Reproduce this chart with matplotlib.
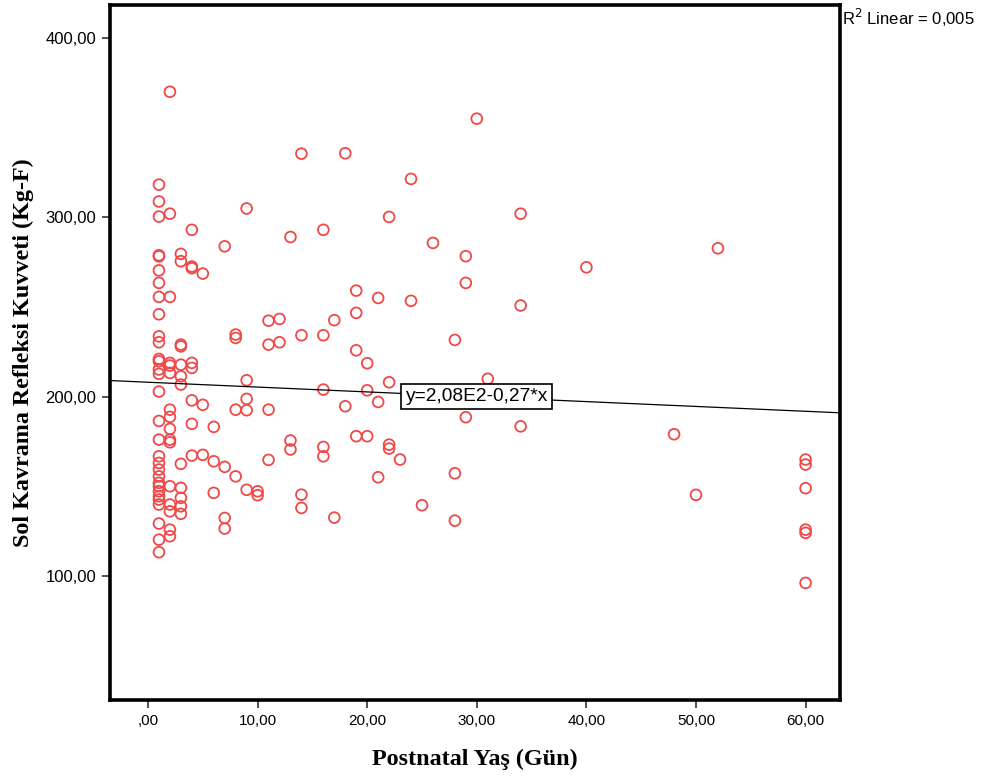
import matplotlib
matplotlib.use("Agg")
import matplotlib.pyplot as plt
from matplotlib.ticker import FuncFormatter
import numpy as np

# postnatal age (days) and left grasp reflex force, one row per age group
ages = [1, 2, 3, 4, 5, 6, 7, 8, 9, 10, 11, 12, 13, 14, 16, 17, 18, 19, 20,
        21, 22, 23, 24, 25, 26, 28, 29, 30, 31, 34, 40, 48, 50, 52, 60]
forces = [
    [318.2, 308.8, 300.4, 278.8, 278.2, 270.4, 263.4, 255.6, 245.9, 233.6,
     230.3, 221.0, 219.7, 215.1, 212.7, 202.8, 186.4, 176.0, 166.7, 163.0,
     159.3, 155.5, 151.9, 150.0, 147.2, 144.4, 142.6, 139.8, 129.2, 120.2, 113.2],
    [370.0, 302.0, 255.6, 218.8, 217.3, 213.2, 192.7, 188.7, 182.0, 176.0,
     174.5, 150.0, 139.8, 136.0, 125.8, 122.1],
    [279.6, 275.5, 229.0, 228.0, 217.8, 211.3, 206.7, 162.5, 149.1, 143.5,
     138.8, 134.6],
    [293.0, 272.5, 271.6, 218.8, 216.0, 197.9, 184.8, 167.1],
    [268.6, 195.4, 167.5],
    [183.1, 163.9, 146.3],
    [283.8, 160.8, 132.3, 126.4],
    [234.6, 232.7, 192.7, 155.5],
    [304.9, 209.1, 198.7, 192.4, 148.0],
    [147.2, 145.0],
    [242.3, 229.0, 192.7, 164.7],
    [243.3, 230.3],
    [289.0, 175.5, 170.5],
    [335.5, 234.2, 145.3, 137.9],
    [293.0, 234.2, 203.9, 171.9, 166.7],
    [242.6, 132.5],
    [335.7, 194.6],
    [259.1, 246.7, 225.8, 177.9],
    [218.6, 203.5, 177.9],
    [255.0, 197.0, 155.0],
    [300.2, 208.0, 173.2, 171.0],
    [164.9],
    [321.4, 253.4],
    [139.4],
    [285.7],
    [231.6, 157.2, 130.8],
    [278.3, 263.4, 188.5],
    [355.0],
    [209.9],
    [302.0, 250.8, 183.4],
    [272.1],
    [179.0],
    [145.2],
    [282.7],
    [164.9, 162.1, 148.9, 125.8, 124.0, 96.1],
]

fit_intercept = 208.0
fit_slope = -0.27
fit_label = "y=2,08E2-0,27*x"
r2_label = "R$^2$ Linear = 0,005"

x = np.concatenate([[a] * len(f) for a, f in zip(ages, forces)])
y = np.concatenate(forces)

fig = plt.figure(figsize=(9.88, 7.78), dpi=100)
ax = fig.add_axes([0.1113, 0.1003, 0.7389, 0.8933])

ax.scatter(x, y, s=60, facecolors="none", edgecolors="#f04848",
           linewidths=1.3, zorder=2)

xmin, xmax = -3.47, 63.14
xs = np.array([xmin, xmax])
ax.plot(xs, fit_intercept + fit_slope * xs, color="black", lw=0.9, zorder=3)

ax.text(30.0, 200.0, fit_label, ha="center", va="center", fontsize=13.8,
        family="Liberation Sans", zorder=5,
        bbox=dict(boxstyle="square,pad=0.22", fc="white", ec="black", lw=1.2))

ax.set_xlim(xmin, xmax)
ax.set_ylim(30.8, 418.4)
ax.set_xticks([0, 10, 20, 30, 40, 50, 60])
ax.set_yticks([100, 200, 300, 400])


def comma_fmt(v, pos):
    s = f"{v:.2f}".replace(".", ",")
    return s[1:] if s.startswith("0,") else s


ax.xaxis.set_major_formatter(FuncFormatter(comma_fmt))
ax.yaxis.set_major_formatter(FuncFormatter(comma_fmt))
ax.tick_params(axis="both", direction="out", length=6, width=1.2,
               color="#333333", labelsize=11, pad=4)
ax.tick_params(axis="y", labelsize=12)
for lab in ax.get_xticklabels() + ax.get_yticklabels():
    lab.set_family("Liberation Sans")

for sp in ax.spines.values():
    sp.set_linewidth(2.6)
    sp.set_color("black")

ax.set_xlabel("Postnatal Yaş (Gün)", family="Liberation Serif",
              fontweight="bold", fontsize=17.4, labelpad=15)
ax.set_ylabel("Sol Kavrama Refleksi Kuvveti (Kg-F)", family="Liberation Serif",
              fontweight="bold", fontsize=17.4, labelpad=8)

fig.text(0.852, 0.977, r2_label, family="Liberation Sans", fontsize=12,
         ha="left", va="center")

fig.savefig("out.png", dpi=100, facecolor="white")
